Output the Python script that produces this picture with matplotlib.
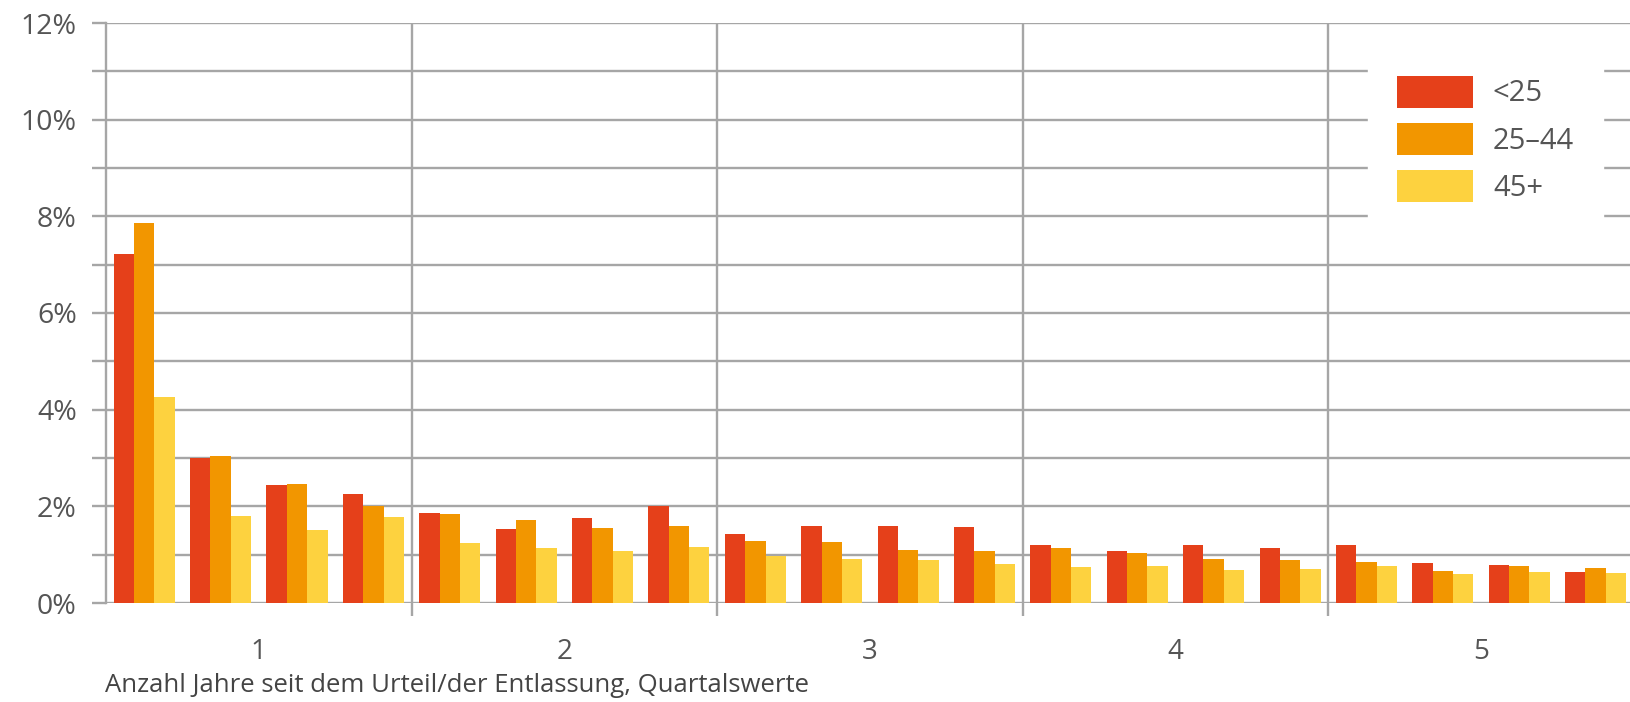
import numpy as np
import matplotlib.pyplot as plt
from matplotlib.ticker import FixedLocator, FuncFormatter

# Anteil je Quartal seit Urteil/Entlassung (Quartale 1..20), in %
quarters = np.arange(20)
under_25 = [7.23, 3.01, 2.45, 2.26, 1.86, 1.53, 1.76, 2.01, 1.43, 1.59,
            1.59, 1.57, 1.19, 1.07, 1.19, 1.14, 1.20, 0.83, 0.78, 0.64]
age_25_44 = [7.87, 3.05, 2.47, 2.00, 1.84, 1.71, 1.55, 1.60, 1.28, 1.26,
             1.10, 1.07, 1.13, 1.03, 0.92, 0.88, 0.85, 0.66, 0.77, 0.72]
over_45 = [4.26, 1.79, 1.52, 1.78, 1.24, 1.14, 1.08, 1.15, 0.98, 0.91,
           0.90, 0.81, 0.74, 0.76, 0.69, 0.70, 0.76, 0.61, 0.65, 0.63]
series_labels = ['<25', '25–44', '45+']
colors = ['#E5401A', '#F29600', '#FDD23F']
year_labels = ['1', '2', '3', '4', '5']

grid_col = '#a6a6a6'
text_col = '#555555'
plt.rcParams['font.family'] = ['Open Sans', 'DejaVu Sans']

fig = plt.figure(figsize=(16.3, 7.02), dpi=100)
W, H = 1630, 702
ax = fig.add_axes([106 / W, 1 - 603 / H, (W - 106) / W, (603 - 23) / H])

bw = 0.8 / 3
for k, vals in enumerate([under_25, age_25_44, over_45]):
    ax.bar(quarters + (k - 1) * bw, vals, width=bw, color=colors[k],
           label=series_labels[k], zorder=3)

ax.set_ylim(0, 12)
ax.set_xlim(-0.5, 19.45)

# y: Gitter in 1%-Schritten, Beschriftung alle 2%
ax.yaxis.set_major_locator(FixedLocator(np.arange(0, 13, 2)))
ax.yaxis.set_minor_locator(FixedLocator(np.arange(1, 12, 2)))
ax.yaxis.set_major_formatter(FuncFormatter(lambda v, p: f'{v:.0f}%'))
ax.tick_params(axis='y', which='both', length=10, width=1.7, color=grid_col,
               pad=11, labelsize=20.5, labelcolor=text_col)
ax.grid(axis='y', which='both', color=grid_col, linewidth=1.7)

# x: Jahresgrenzen als Gitter, Jahreszahlen mittig
ax.xaxis.set_major_locator(FixedLocator([3.5, 7.5, 11.5, 15.5]))
ax.xaxis.set_major_formatter(FuncFormatter(lambda v, p: ''))
ax.xaxis.set_minor_locator(FixedLocator([1.5, 5.5, 9.5, 13.5, 17.5]))
ax.xaxis.set_minor_formatter(FuncFormatter(lambda v, p: year_labels[p]))
ax.tick_params(axis='x', which='major', length=9, width=1.7, color=grid_col)
ax.tick_params(axis='x', which='minor', length=0, pad=25, labelsize=20,
               labelcolor=text_col)
ax.grid(axis='x', which='major', color=grid_col, linewidth=1.7)
ax.set_axisbelow(True)

for s in ['top', 'right', 'bottom']:
    ax.spines[s].set_visible(False)
ax.spines['left'].set_color(grid_col)
ax.spines['left'].set_linewidth(1.7)

fig.text(105 / W, 1 - 686 / H,
         'Anzahl Jahre seit dem Urteil/der Entlassung, Quartalswerte',
         ha='left', va='center', fontsize=18.5, color='#444444')

leg = ax.legend(loc='upper left', bbox_to_anchor=(1353 / W, 1 - 32 / H),
                bbox_transform=fig.transFigure, fontsize=21,
                handlelength=2.6, handleheight=1.3, handletextpad=0.7,
                labelspacing=0.5, borderpad=1.0, frameon=True,
                fancybox=False, framealpha=1, edgecolor='white',
                facecolor='white')
for t in leg.get_texts():
    t.set_color(text_col)

fig.savefig('out.png', dpi=100, facecolor='white')
